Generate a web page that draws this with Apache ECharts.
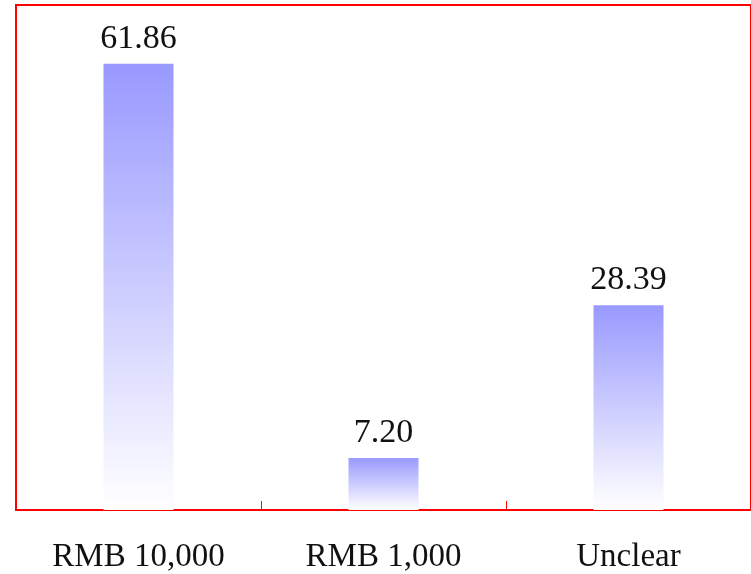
<!DOCTYPE html>
<html>
<head>
<meta charset="utf-8">
<script src="https://cdn.jsdelivr.net/npm/echarts@6/dist/echarts.min.js"></script>
<style>
  html, body { margin: 0; padding: 0; background: #ffffff; }
  #chart { width: 751px; height: 574px; }
</style>
</head>
<body>
<div id="chart"></div>
<script>
// Amount categories and their shares (%)
var categories = ['RMB 10,000', 'RMB 1,000', 'Unclear'];
var shares = [61.86, 7.20, 28.39];
var axisMax = 70;

var chart = echarts.init(document.getElementById('chart'), null, { renderer: 'canvas' });

var fontFamily = '"Liberation Serif", "DejaVu Serif", serif';

chart.setOption({
  backgroundColor: '#ffffff',
  animation: false,
  grid: {
    left: 16, right: 0, top: 5, bottom: 64,
    show: true,
    borderColor: '#ff0000',
    borderWidth: 2,
    backgroundColor: 'transparent'
  },
  xAxis: {
    type: 'category',
    data: categories,
    axisLine: { show: true, lineStyle: { color: '#ff0000', width: 2 } },
    axisTick: { show: true, inside: true, length: 9, lineStyle: { color: '#ff0000', width: 1 } },
    axisLabel: {
      color: '#111111',
      fontFamily: fontFamily,
      fontSize: 33,
      margin: 31
    }
  },
  yAxis: {
    type: 'value',
    min: 0,
    max: axisMax,
    show: false,
    splitLine: { show: false }
  },
  series: [{
    type: 'bar',
    data: shares,
    barWidth: 70,
    itemStyle: {
      color: new echarts.graphic.LinearGradient(0, 0, 0, 1, [
        { offset: 0, color: '#9999ff' },
        { offset: 1, color: '#ffffff' }
      ])
    },
    label: {
      show: true,
      position: 'top',
      distance: 8,
      color: '#111111',
      fontFamily: fontFamily,
      fontSize: 34,
      formatter: function (p) { return p.value.toFixed(2); }
    }
  }]
});
</script>
</body>
</html>
